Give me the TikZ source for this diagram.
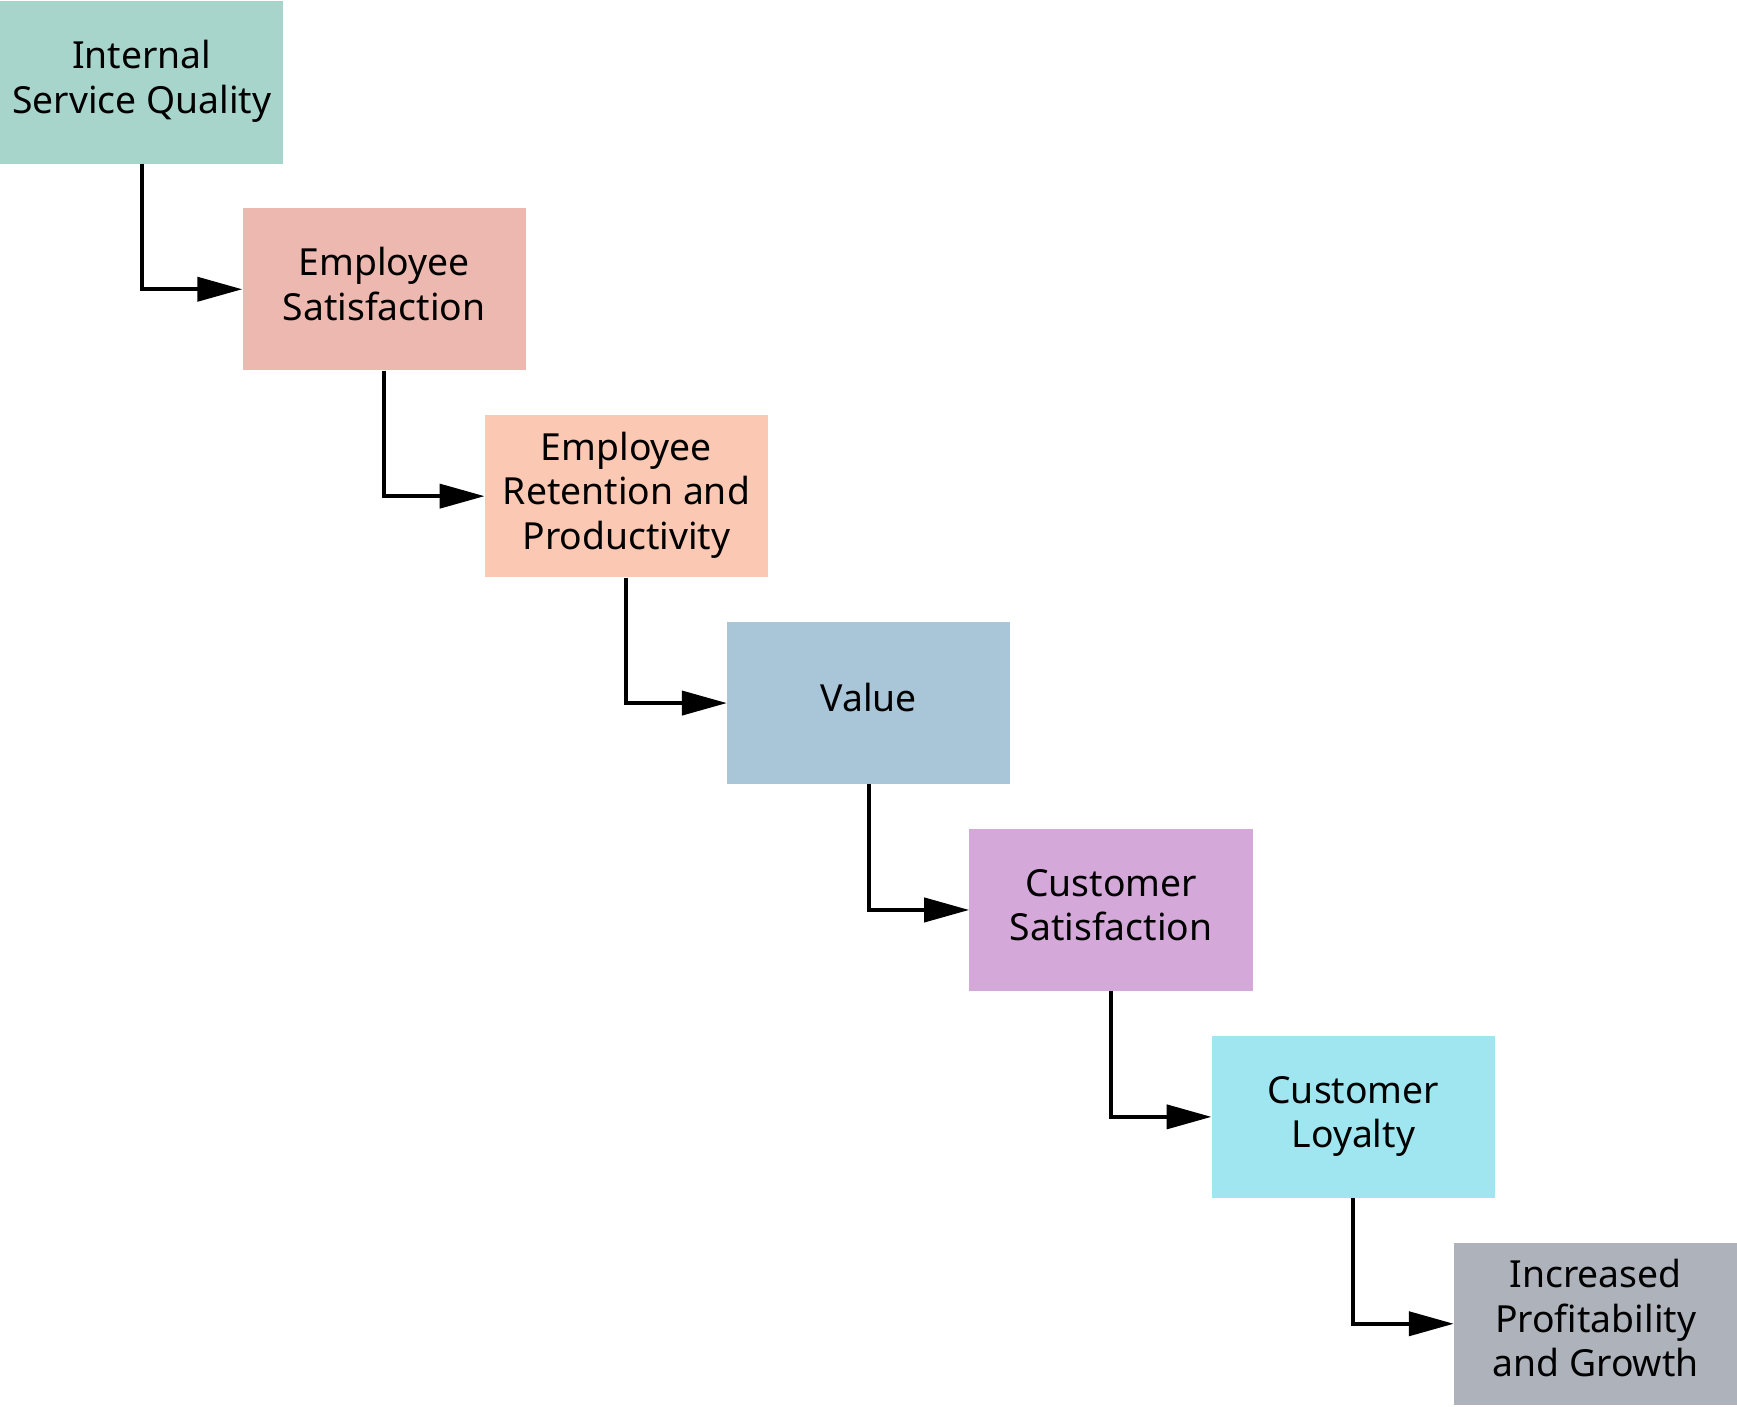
\documentclass[tikz,border=0pt]{standalone}
\usepackage{fontspec}
\setmainfont{Noto Sans}
\usetikzlibrary{arrows.meta}
\definecolor{cA}{HTML}{A8D5CB}
\definecolor{cB}{HTML}{EDB8AF}
\definecolor{cC}{HTML}{FAC8B3}
\definecolor{cD}{HTML}{A8C6D8}
\definecolor{cE}{HTML}{D4A9D9}
\definecolor{cF}{HTML}{9FE6F0}
\definecolor{cG}{HTML}{ADB2BB}
\newcommand{\lnA}{\rule[-13.75pt]{0pt}{44.5pt}}
\begin{document}
\begin{tikzpicture}[x=1pt,y=-1pt,
  box/.style={fill=#1, anchor=north west, minimum width=283.2pt, minimum height=162.3pt,
    inner sep=0pt, align=center, font=\fontsize{37.3}{44.5}\selectfont},
  conn/.style={line width=4pt, -{Triangle[length=45pt,width=24pt]}}]
\useasboundingbox (0,0) rectangle (1737,1406);
\node[box=cA] (n1) at (0,1) {\lnA Internal\\\lnA Service Quality};
\node[box=cB] (n2) at (242.3,207.9) {\lnA Employee\\\lnA Satisfaction};
\node[box=cC] (n3) at (484.6,414.8) {\lnA Employee\\\lnA Retention and\\\lnA Productivity};
\node[box=cD] (n4) at (726.9,621.7) {\lnA Value};
\node[box=cE] (n5) at (969.2,828.6) {\lnA Customer\\\lnA Satisfaction};
\node[box=cF] (n6) at (1211.5,1035.5) {\lnA Customer\\\lnA Loyalty};
\node[box=cG] (n7) at (1453.8,1242.4) {\lnA Increased\\\lnA Profitability\\\lnA and Growth};
\draw[conn] (n1.south) |- (n2.west);
\draw[conn] (n2.south) |- (n3.west);
\draw[conn] (n3.south) |- (n4.west);
\draw[conn] (n4.south) |- (n5.west);
\draw[conn] (n5.south) |- (n6.west);
\draw[conn] (n6.south) |- (n7.west);
\end{tikzpicture}
\end{document}
